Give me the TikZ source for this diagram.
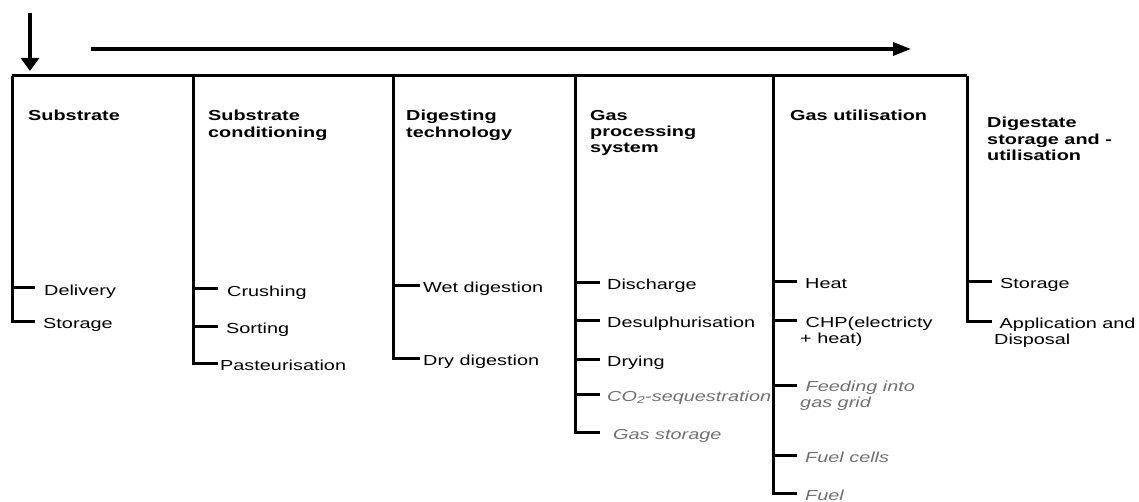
\documentclass[tikz,border=0pt]{standalone}
\usepackage{fontspec}
\setmainfont{Liberation Sans}[FakeStretch=1.37]
\usetikzlibrary{arrows.meta}
\definecolor{planned}{RGB}{112,112,112}
\begin{document}
\begin{tikzpicture}[x=1pt,y=-1pt,
  font=\fontsize{14.5}{15.5}\selectfont,
  rule/.style={line width=3pt, line join=miter},
  head/.style={inner sep=0pt, anchor=north west, align=left,
    font=\bfseries\fontsize{14.5}{16.3}\selectfont},
  item/.style={inner sep=0pt, anchor=base west},
  itemml/.style={inner sep=0pt, anchor=north west, align=left},
  planned/.style={text=planned, font=\itshape\fontsize{14.5}{15.5}\selectfont}]
\useasboundingbox (0,0) rectangle (1139,502);

% flow arrows
\coordinate (inTop) at (30,13);
\coordinate (inTip) at (30,71);
\draw[line width=3.8pt, -{Triangle[length=13pt,width=18pt]}] (inTop) -- (inTip);
\coordinate (flowA) at (91,49);
\coordinate (flowB) at (911,49);
\draw[line width=3.2pt, -{Triangle[length=18pt,width=13pt]}] (flowA) -- (flowB);

% column spines
\coordinate (c1top) at (12,76);
\coordinate (c2top) at (193,76);
\coordinate (c3top) at (393,76);
\coordinate (c4top) at (575,76);
\coordinate (c5top) at (773,76);
\coordinate (c6top) at (967,76);
\draw[rule] (c1top) -- (c6top);

% headers
\node[head] (h1) at (28,110) {Substrate};
\node[head] (h2) at (208,110) {Substrate\\conditioning};
\node[head] (h3) at (406,110) {Digesting\\technology};
\node[head] (h4) at (590,110) {Gas\\processing\\system};
\node[head] (h5) at (790,110) {Gas utilisation};
\node[head] (h6) at (987,117) {Digestate\\storage and -\\utilisation};

% column 1: substrate
\coordinate (t11) at (12,288);
\coordinate (t12) at (12,321);
\draw[rule] (t11) -- ++(23,0);
\draw[rule] (c1top) -- (t12) -- ++(23,0);
\node[item] (delivery) at (44,295) {Delivery};
\node[item] (storage1) at (43,328) {Storage};

% column 2: substrate conditioning
\coordinate (t21) at (193,289);
\coordinate (t22) at (193,326);
\coordinate (t23) at (193,363);
\draw[rule] (t21) -- ++(25,0);
\draw[rule] (t22) -- ++(25,0);
\draw[rule] (c2top) -- (t23) -- ++(25,0);
\node[item] (crushing) at (227,296) {Crushing};
\node[item] (sorting) at (226,333) {Sorting};
\node[item] (pasteur) at (220,370) {Pasteurisation};

% column 3: digesting technology
\coordinate (t31) at (393,286);
\coordinate (t32) at (393,358);
\draw[rule] (t31) -- ++(27,0);
\draw[rule] (c3top) -- (t32) -- ++(27,0);
\node[item] (wet) at (423,293) {Wet digestion};
\node[item] (dry) at (423,365) {Dry digestion};

% column 4: gas processing
\coordinate (t41) at (575,283);
\coordinate (t42) at (575,320);
\coordinate (t43) at (575,359);
\coordinate (t44) at (575,394);
\coordinate (t45) at (575,432);
\draw[rule] (t41) -- ++(25,0);
\draw[rule] (t42) -- ++(25,0);
\draw[rule] (t43) -- ++(25,0);
\draw[rule] (t44) -- ++(25,0);
\draw[rule] (c4top) -- (t45) -- ++(25,0);
\node[item] (discharge) at (607,290) {Discharge};
\node[item] (desulph) at (607,327) {Desulphurisation};
\node[item] (drying) at (607,366) {Drying};
\node[item, planned] (co2) at (607,401) {CO\textsubscript{2}-sequestration};
\node[item, planned] (gasstore) at (613,439) {Gas storage};

% column 5: gas utilisation
\coordinate (t51) at (773,282);
\coordinate (t52) at (773,320);
\coordinate (t53) at (773,385);
\coordinate (t54) at (773,455);
\coordinate (t55) at (773,493);
\draw[rule] (t51) -- ++(24,0);
\draw[rule] (t52) -- ++(24,0);
\draw[rule] (t53) -- ++(24,0);
\draw[rule] (t54) -- ++(24,0);
\draw[rule] (c5top) -- (t55) -- ++(24,0);
\node[item] (heat) at (805,289) {Heat};
\node[itemml] (chp) at (800,317) {\hspace*{5.5pt}CHP(electricty\\+ heat)};
\node[itemml, planned] (grid) at (800,381) {\hspace*{5.5pt}Feeding into\\gas grid};
\node[item, planned] (cells) at (805,462) {Fuel cells};
\node[item, planned] (fuel) at (805,500) {Fuel};

% column 6: digestate storage and utilisation
\coordinate (t61) at (967,282);
\coordinate (t62) at (967,321);
\draw[rule] (t61) -- ++(25,0);
\draw[rule] (c6top) -- (t62) -- ++(25,0);
\node[item] (storage6) at (1000,289) {Storage};
\node[itemml] (appl) at (994,318) {\hspace*{5.5pt}Application and\\Disposal};
\end{tikzpicture}
\end{document}
